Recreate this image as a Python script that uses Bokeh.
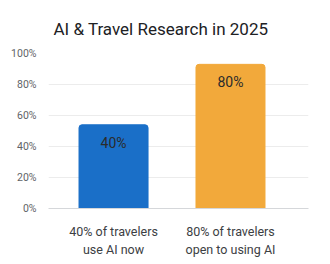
from bokeh.plotting import figure
from bokeh.models import Range1d, FixedTicker, ColumnDataSource
from bokeh.core.properties import value
from bokeh.embed import file_html
from bokeh.resources import INLINE

categories = ["40% of travelers\nuse AI now", "80% of travelers\nopen to using AI"]
bar_heights = [54, 93]
bar_labels = ["40%", "80%"]
bar_colors = ["#1a6fc8", "#f2a93b"]
y_ticks = [0, 20, 40, 60, 80, 100]

FONT = "Roboto"

idx = list(range(len(categories)))
src = ColumnDataSource(dict(x=idx, top=bar_heights, label=bar_labels, color=bar_colors))

p = figure(width=330, height=264, output_backend="svg", toolbar_location=None,
           x_range=Range1d(-0.556, 1.667), y_range=Range1d(0, 100),
           min_border_left=48, min_border_right=22, min_border_top=53, min_border_bottom=56)
p.title.text = "AI & Travel Research in 2025"
p.title.align = "left"
p.title.offset = 5
p.title.text_font = FONT
p.title.text_font_size = "17px"
p.title.text_font_style = "normal"
p.title.text_color = "#202124"
p.title.standoff = 30
p.outline_line_color = None
p.background_fill_color = "white"
p.border_fill_color = "white"

p.vbar(x="x", top="top", width=0.59, color="color", source=src,
       border_radius=[3, 3, 0, 0])
p.text(x="x", y="top", text="label", source=src, text_align="center", text_baseline="top",
       y_offset=10, text_font=value(FONT), text_font_size="14px", text_color="#2b2b2b")

p.xgrid.visible = False
p.ygrid.grid_line_color = "#ececec"
p.ygrid.ticker = FixedTicker(ticks=y_ticks)

p.yaxis.ticker = FixedTicker(ticks=y_ticks)
p.yaxis.major_label_overrides = {t: f"{t}%" for t in y_ticks}
p.yaxis.axis_line_color = None
p.yaxis.major_tick_line_color = None
p.yaxis.minor_tick_line_color = None
p.yaxis.major_label_text_font = FONT
p.yaxis.major_label_text_font_size = "10.5px"
p.yaxis.major_label_text_color = "#5f6368"
p.yaxis.major_label_standoff = 6

p.xaxis.ticker = FixedTicker(ticks=idx)
p.xaxis.major_label_overrides = {i: c for i, c in zip(idx, categories)}
p.xaxis.axis_line_color = "#d5d7da"
p.xaxis.major_tick_line_color = None
p.xaxis.minor_tick_line_color = None
p.xaxis.major_label_text_font = FONT
p.xaxis.major_label_text_font_size = "12.5px"
p.xaxis.major_label_text_color = "#3c4043"
p.xaxis.major_label_text_line_height = 1.2
p.xaxis.major_label_standoff = 9

open("out.html", "w").write(file_html(p, INLINE))
